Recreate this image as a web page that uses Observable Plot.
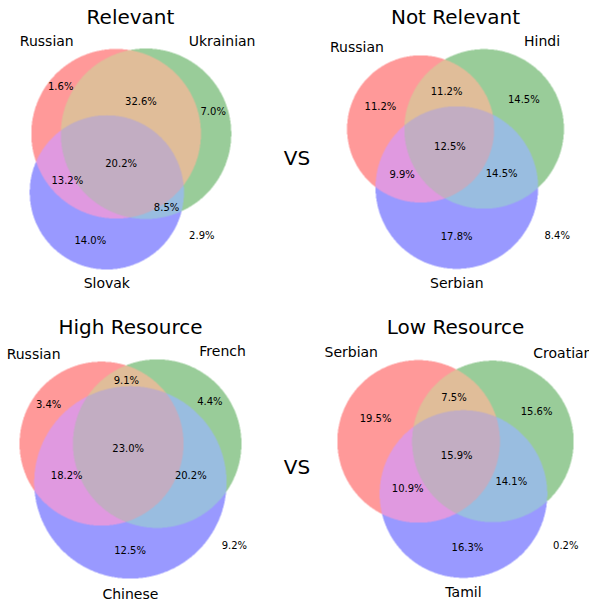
<!DOCTYPE html>
<html>
<head>
<meta charset="utf-8">
<script src="https://cdn.jsdelivr.net/npm/d3@7"></script>
<script src="https://cdn.jsdelivr.net/npm/@observablehq/plot@0.6"></script>
<style>
  body { margin: 0; background: #fff; overflow: hidden; }
  #fig { position: relative; width: 589px; height: 606px; overflow: hidden; font-family: "DejaVu Sans", sans-serif; }
  .panel { position: absolute; width: 300px; }
  .panel svg { max-width: none; }
  .vs { position: absolute; font-size: 20px; transform: translate(-50%, -50%); }
</style>
</head>
<body>
<div id="fig"></div>
<script>
// Datos: cuatro diagramas de Venn (porcentajes por region)
const titles = ['Relevant', 'Not Relevant', 'High Resource', 'Low Resource']
const setNames = [
  ['Russian', 'Ukrainian', 'Slovak'],
  ['Russian', 'Hindi', 'Serbian'],
  ['Russian', 'French', 'Chinese'],
  ['Serbian', 'Croatian', 'Tamil'],
]
// orden de regiones igual que matplotlib-venn: 100, 010, 110, 001, 101, 011, 111
const regionKeys = ['100', '010', '110', '001', '101', '011', '111']
const regionPct = [
  [1.6, 7.0, 32.6, 14.0, 13.2, 8.5, 20.2],
  [11.2, 14.5, 11.2, 17.8, 9.9, 14.5, 12.5],
  [3.4, 4.4, 9.1, 12.5, 18.2, 20.2, 23.0],
  [19.5, 15.6, 7.5, 16.3, 10.9, 14.1, 15.9],
]
const outsidePct = [2.9, 8.4, 9.2, 0.2]

/* layout de la figura */
const frameW = 300, frameH = 257, marginTop = 30
const panelPos = [[-20, 0], [305, 0], [-20, 310], [305, 310]]
const outsideFx = [0.8, 0.9, 0.9, 0.9]
const setColors = ['red', 'green', 'blue']

/* colores de regiones como matplotlib-venn (mezcla + alpha 0.4 sobre blanco) */
const base = setColors.map(c => d3.rgb(c)).map(c => [c.r / 255, c.g / 255, c.b / 255])
function regionColor(key) {
  const on = base.filter((c, i) => key[i] === '1')
  const f = on.length === 1 ? 1 : on.length === 2 ? 0.7 : 0.4
  const mix = [0, 1, 2].map(j => Math.min(1, f * d3.sum(on, c => c[j])))
  return d3.rgb(...mix.map(v => (0.6 + 0.4 * v) * 255)).formatHex()
}
const colorOf = Object.fromEntries(regionKeys.map(k => [k, regionColor(k)]))

/* geometria: circulos con area proporcional (como solve_venn3_circles) */
function lensArea(r1, r2, d) {
  if (d >= r1 + r2) return 0
  if (d <= Math.abs(r1 - r2)) return Math.PI * Math.min(r1, r2) ** 2
  const a = r1 * r1 * Math.acos((d * d + r1 * r1 - r2 * r2) / (2 * d * r1))
  const b = r2 * r2 * Math.acos((d * d + r2 * r2 - r1 * r1) / (2 * d * r2))
  const c = 0.5 * Math.sqrt((-d + r1 + r2) * (d + r1 - r2) * (d - r1 + r2) * (d + r1 + r2))
  return a + b - c
}
function distanceForArea(r1, r2, area) {
  let lo = Math.abs(r1 - r2), hi = r1 + r2
  if (area >= Math.PI * Math.min(r1, r2) ** 2) return lo
  if (area <= 0) return hi
  for (let i = 0; i < 80; i++) {
    const mid = (lo + hi) / 2
    if (lensArea(r1, r2, mid) > area) lo = mid
    else hi = mid
  }
  return (lo + hi) / 2
}
function vennLayout(v) {
  const total = d3.sum(v)
  const [a, b, ab, c, ac, bc, abc] = v.map(x => x / total)
  const areas = [a + ab + ac + abc, b + ab + bc + abc, c + ac + bc + abc]
  const r = areas.map(s => Math.sqrt(s / Math.PI))
  const dAB = distanceForArea(r[0], r[1], ab + abc)
  const dBC = distanceForArea(r[1], r[2], bc + abc)
  const dAC = distanceForArea(r[0], r[2], ac + abc)
  const cx = (dAC * dAC - dBC * dBC + dAB * dAB) / (2 * dAB)
  const cy = -Math.sqrt(Math.max(0, dAC * dAC - cx * cx))
  const pts = [[0, 0], [dAB, 0], [cx, cy]]
  const w = r.map(x => x * x), W = d3.sum(w)
  const mx = d3.sum(pts, (p, i) => p[0] * w[i]) / W
  const my = d3.sum(pts, (p, i) => p[1] * w[i]) / W
  return pts.map((p, i) => ({x: p[0] - mx, y: p[1] - my, r: r[i]}))
}

const fig = d3.select('#fig')

titles.forEach((title, p) => {
  const circles = vennLayout(regionPct[p])
  const keyAt = (x, y) => circles.map(c => ((x - c.x) ** 2 + (y - c.y) ** 2 <= c.r * c.r ? '1' : '0')).join('')

  const ext = {
    x0: d3.min(circles, c => c.x - c.r) - 0.1, x1: d3.max(circles, c => c.x + c.r) + 0.1,
    y0: d3.min(circles, c => c.y - c.r) - 0.1, y1: d3.max(circles, c => c.y + c.r) + 0.1,
  }
  const k = frameH / (ext.y1 - ext.y0)
  const xm = (ext.x0 + ext.x1) / 2
  const halfW = frameW / 2 / k

  // centroides de cada region (muestreo)
  const acc = Object.fromEntries(regionKeys.map(key => [key, {sx: 0, sy: 0, n: 0, pts: []}]))
  const step = 0.004
  for (let x = ext.x0; x <= ext.x1; x += step) {
    for (let y = ext.y0; y <= ext.y1; y += step) {
      const key = keyAt(x, y)
      if (acc[key]) { acc[key].sx += x; acc[key].sy += y; acc[key].n++; acc[key].pts.push([x, y]) }
    }
  }

  // regiones de un solo conjunto: punto medio de la cuerda desde el arco exterior hacia el centro
  function crescentLabel(i, key) {
    const c = circles[i], N = 720
    const free = d3.range(N).map(j => {
      const t = 2 * Math.PI * j / N
      return keyAt(c.x + 0.999 * c.r * Math.cos(t), c.y + 0.999 * c.r * Math.sin(t)) === key
    })
    let best = [0, -1], start = -1
    for (let j = 0; j < 2 * N; j++) {
      if (free[j % N]) {
        if (start < 0) start = j
        if (j - start > best[1] - best[0]) best = [start, j]
      } else start = -1
      if (j - start >= N) break
    }
    const t = 2 * Math.PI * ((best[0] + best[1]) / 2) / N
    const px = c.x + 0.999 * c.r * Math.cos(t), py = c.y + 0.999 * c.r * Math.sin(t)
    let s = 0
    while (s < 2 * c.r && keyAt(px - s * Math.cos(t), py - s * Math.sin(t)) === key) s += 0.001
    return [px - s / 2 * Math.cos(t), py - s / 2 * Math.sin(t)]
  }

  const subsetLabels = regionKeys.map((key, i) => {
    const a = acc[key]
    let x = a.sx / a.n, y = a.sy / a.n
    const single = key.split('').filter(b => b === '1').length === 1
    if (single) {
      [x, y] = crescentLabel(key.indexOf('1'), key)
    } else if (keyAt(x, y) !== key) {
      const best = d3.least(a.pts, q => (q[0] - x) ** 2 + (q[1] - y) ** 2)
      x = best[0]; y = best[1]
    }
    return {x, y, text: `${regionPct[p][i].toFixed(1)}%`}
  })

  const [A, B, C] = circles
  const names = setNames[p]

  const chart = Plot.plot({
    width: frameW,
    height: frameH + marginTop,
    marginTop, marginLeft: 0, marginRight: 0, marginBottom: 0,
    x: {domain: [xm - halfW, xm + halfW], axis: null},
    y: {domain: [ext.y0, ext.y1], axis: null},
    color: {type: 'identity'},
    style: {fontFamily: '"DejaVu Sans", sans-serif', background: 'transparent', overflow: 'visible', maxWidth: 'none'},
    marks: [
      Plot.raster({
        fill: (x, y) => colorOf[keyAt(x, y)] ?? null,
        x1: xm - halfW, x2: xm + halfW, y1: ext.y0, y2: ext.y1,
        pixelSize: 0.5,
      }),
      Plot.text(subsetLabels, {x: 'x', y: 'y', text: 'text', fontSize: 10, fill: 'black'}),
      Plot.text([{x: ext.x0 + outsideFx[p] * (ext.x1 - ext.x0), y: ext.y0 + 0.2 * (ext.y1 - ext.y0), text: `${outsidePct[p].toFixed(1)}%`}],
        {x: 'x', y: 'y', text: 'text', fontSize: 10, fill: 'black'}),
      Plot.text([{x: A.x - A.r / 2, y: A.y + A.r, text: names[0]}],
        {x: 'x', y: 'y', text: 'text', fontSize: 14, textAnchor: 'end', lineAnchor: 'bottom', dy: -3}),
      Plot.text([{x: B.x + B.r / 2, y: B.y + B.r, text: names[1]}],
        {x: 'x', y: 'y', text: 'text', fontSize: 14, textAnchor: 'start', lineAnchor: 'bottom', dy: -3}),
      Plot.text([{x: C.x, y: C.y - 1.1 * C.r, text: names[2]}],
        {x: 'x', y: 'y', text: 'text', fontSize: 14, textAnchor: 'middle', lineAnchor: 'top', dy: 1}),
      Plot.text([title], {frameAnchor: 'top', dy: -13, fontSize: 20, lineAnchor: 'middle'}),
    ],
  })

  fig.append('div')
    .attr('class', 'panel')
    .style('left', `${panelPos[p][0]}px`)
    .style('top', `${panelPos[p][1]}px`)
    .append(() => chart)
})

fig.append('div').attr('class', 'vs').style('left', '297px').style('top', '158px').text('VS')
fig.append('div').attr('class', 'vs').style('left', '297px').style('top', '467px').text('VS')
</script>
</body>
</html>
